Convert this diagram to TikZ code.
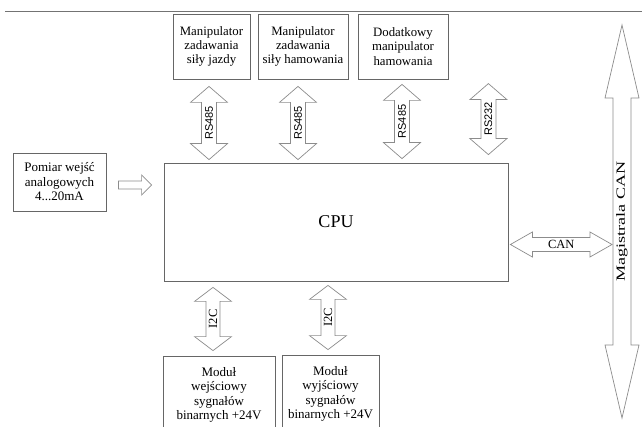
\documentclass[tikz,border=0pt]{standalone}
\usepackage{fontspec}
\setmainfont{Liberation Serif}
\newfontfamily\arialfont{Liberation Sans}
\usetikzlibrary{calc}

% block arrow with two heads: [style]{from}{to}{half head}{half shaft}{head length}
\newcommand{\dblarrow}[6][]{%
  \draw[blk,#1] (#2)
    -- ($(#2)!#6!(#3)!#4!90:(#3)$) -- ($(#2)!#6!(#3)!#5!90:(#3)$)
    -- ($(#3)!#6!(#2)!#5!-90:(#2)$) -- ($(#3)!#6!(#2)!#4!-90:(#2)$)
    -- (#3)
    -- ($(#3)!#6!(#2)!#4!90:(#2)$) -- ($(#3)!#6!(#2)!#5!90:(#2)$)
    -- ($(#2)!#6!(#3)!#5!-90:(#3)$) -- ($(#2)!#6!(#3)!#4!-90:(#3)$)
    -- cycle;}
% block arrow with one head at {to}
\newcommand{\sglarrow}[6][]{%
  \draw[blk,#1] ($(#2)!#5!90:(#3)$)
    -- ($(#3)!#6!(#2)!#5!-90:(#2)$) -- ($(#3)!#6!(#2)!#4!-90:(#2)$)
    -- (#3)
    -- ($(#3)!#6!(#2)!#4!90:(#2)$) -- ($(#3)!#6!(#2)!#5!90:(#2)$)
    -- ($(#2)!#5!-90:(#3)$) -- cycle;}

\begin{document}
\begin{tikzpicture}[
  x=1pt, y=1pt,
  box/.style={rectangle, draw=black!60, line width=0.8pt, align=center, inner sep=0pt,
    font=\fontsize{12.8}{14.3}\selectfont},
  blk/.style={draw=black!45, line width=0.7pt, fill=white},
  lbl/.style={font=\fontsize{12.5}{14}\selectfont, inner sep=0pt},
  rs/.style={font=\arialfont\fontsize{11}{13}\selectfont, inner sep=0pt}
]
  \useasboundingbox (0,0) rectangle (642,-427);
  \draw[black!55, line width=0.8pt] (5,-11) -- (642,-11);

  % boxes
  \node[box, minimum width=77pt, minimum height=65pt] (m1) at (211.5,-46.5) {Manipulator\\zadawania\\siły jazdy};
  \node[box, minimum width=90pt, minimum height=65pt] (m2) at (303,-46.5) {Manipulator\\zadawania\\siły hamowania};
  \node[box, minimum width=90pt, minimum height=65pt] (m3) at (403,-46.5) {Dodatkowy\\manipulator\\hamowania};
  \node[box, minimum width=344pt, minimum height=118pt, font=\fontsize{18}{20}\selectfont] (cpu) at (336,-222) {CPU};
  \node[box, minimum width=93pt, minimum height=58pt, font=\fontsize{13}{14.5}\selectfont] (pom) at (59.5,-182) {Pomiar wejść\\analogowych\\4...20mA};
  \node[box, minimum width=112pt, minimum height=78pt, font=\fontsize{13}{14.5}\selectfont] (b1) at (219,-395) {Moduł\\wejściowy\\sygnałów\\binarnych +24V};
  \node[box, minimum width=97pt, minimum height=78pt, font=\fontsize{13}{14.5}\selectfont] (b2) at (330.5,-394) {Moduł\\wyjściowy\\sygnałów\\binarnych +24V};

  % arrow ends
  \coordinate (r1a) at ($(m1.south |- cpu.north)+(-2.5,3)$);
  \coordinate (r1b) at ($(m1.south)+(-2.5,-7)$);
  \coordinate (r2a) at ($(m2.south |- cpu.north)+(-5,3)$);
  \coordinate (r2b) at ($(m2.south)+(-5,-7)$);
  \coordinate (r3a) at ($(m3.south |- cpu.north)+(-1,4)$);
  \coordinate (r3b) at ($(m3.south)+(-1,-5)$);
  \coordinate (r4a) at ($(cpu.north east)+(-20,8)$);
  \coordinate (r4b) at ($(cpu.north east)+(-20,79)$);
  \coordinate (i1a) at ($(b1.north)+(-6,5)$);
  \coordinate (i1b) at ($(b1.north |- cpu.south)+(-6,-6)$);
  \coordinate (i2a) at ($(b2.north)+(-2.5,5)$);
  \coordinate (i2b) at ($(b2.north |- cpu.south)+(-2.5,-4)$);
  \coordinate (busB) at (622,-418);
  \coordinate (busT) at (622,-25);
  \coordinate (cana) at ($(cpu.east)+(2,-22.5)$);
  \coordinate (canb) at ($(busB |- cpu.east)+(-10,-22.5)$);
  \coordinate (ina) at ($(pom.east)+(12,-3)$);
  \coordinate (inb) at ($(cpu.west |- pom.east)+(-12,-3)$);

  % connectors
  \dblarrow{r1a}{r1b}{18.5pt}{7.5pt}{16pt}
  \dblarrow{r2a}{r2b}{18.5pt}{7.5pt}{16pt}
  \dblarrow{r3a}{r3b}{18.5pt}{7.5pt}{16pt}
  \dblarrow{r4a}{r4b}{18.5pt}{7.5pt}{16pt}
  \dblarrow{i1a}{i1b}{18.5pt}{7pt}{14pt}
  \dblarrow{i2a}{i2b}{18.5pt}{7pt}{14pt}
  \dblarrow{busB}{busT}{17pt}{9pt}{73pt}
  \dblarrow{cana}{canb}{12.5pt}{7pt}{22pt}
  \sglarrow{ina}{inb}{10pt}{4pt}{10pt}

  \path (r1a) -- (r1b) node[midway, sloped, rs] {RS485};
  \path (r2a) -- (r2b) node[midway, sloped, rs] {RS485};
  \path (r3a) -- (r3b) node[midway, sloped, rs] {RS485};
  \path (r4a) -- (r4b) node[midway, sloped, rs] {RS232};
  \path (i1a) -- (i1b) node[midway, sloped, lbl] {I2C};
  \path (i2a) -- (i2b) node[midway, sloped, lbl] {I2C};
  \path (cana) -- (canb) node[midway, lbl] {CAN};
  \path (busB) -- (busT) node[pos=0.5, sloped, lbl] {\scalebox{1.45}[1]{Magistrala CAN}};
\end{tikzpicture}
\end{document}
